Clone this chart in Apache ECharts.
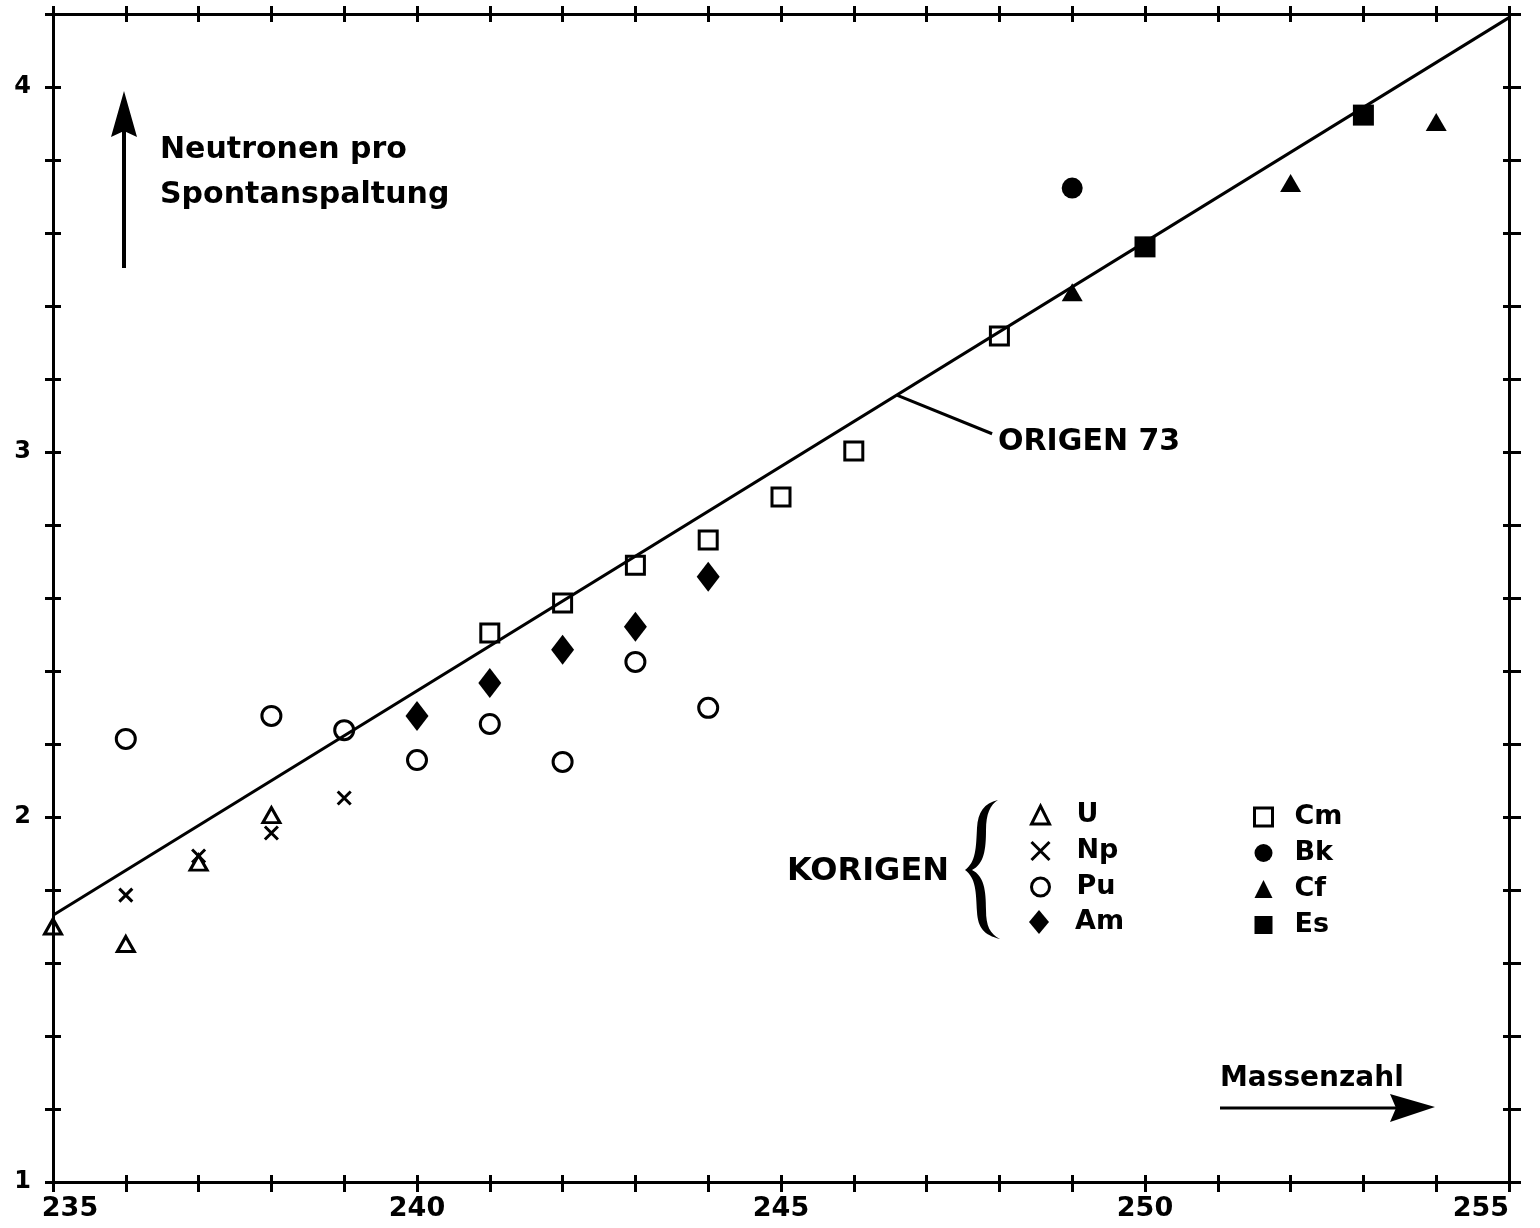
<!DOCTYPE html>
<html>
<head>
<meta charset="utf-8">
<script src="https://cdn.jsdelivr.net/npm/echarts@6/dist/echarts.min.js"></script>
<style>
html, body { margin: 0; padding: 0; background: #fff; }
#main { width: 1540px; height: 1228px; }
</style>
</head>
<body>
<div id="main"></div>
<script>
// Neutronen pro Spontanspaltung: [Massenzahl, Wert]
var dataU  = [[235, 1.700], [236, 1.652], [237, 1.875], [238, 2.005]];
var dataNp = [[236, 1.786], [237, 1.893], [238, 1.956], [239, 2.052]];
var dataPu = [[236, 2.214], [238, 2.277], [239, 2.238], [240, 2.156], [241, 2.255], [242, 2.151], [243, 2.425], [244, 2.299]];
var dataAm = [[240, 2.277], [241, 2.367], [242, 2.458], [243, 2.521], [244, 2.658]];
var dataCm = [[241, 2.504], [242, 2.586], [243, 2.690], [244, 2.759], [245, 2.877], [246, 3.003], [248, 3.318]];
var dataBk = [[249, 3.723]];
var dataCf = [[249, 3.438], [252, 3.737], [254, 3.904]];
var dataEs = [[250, 3.562], [253, 3.923]];

// ORIGEN 73 Gerade und Hinweislinie zur Beschriftung
var origenLine = [[235, 1.731], [255, 4.19]];
var origenLeader = [[246.6, 3.155], [247.9, 3.05]];

var legendLeft = ['U', 'Np', 'Pu'];
var legendAm = ['Am'];
var legendRight = ['Cm', 'Bk', 'Cf', 'Es'];

var FONT = 'DejaVu Sans';
var BLK = '#000';

// geschweifte Klammer vor der Legende
var Brace = echarts.graphic.extendShape({
  shape: {},
  buildPath: function (ctx) {
    ctx.moveTo(998, 800);
    ctx.bezierCurveTo(984, 803, 978, 812, 977, 828);
    ctx.bezierCurveTo(976, 848, 976, 862, 965, 870);
    ctx.bezierCurveTo(976, 878, 976, 892, 977, 912);
    ctx.bezierCurveTo(978, 928, 984, 935, 1000, 939);
    ctx.bezierCurveTo(990, 934, 986, 926, 986, 910);
    ctx.bezierCurveTo(986, 890, 984, 876, 972, 870);
    ctx.bezierCurveTo(984, 864, 986, 850, 986, 830);
    ctx.bezierCurveTo(986, 814, 990, 805, 998, 800);
    ctx.closePath();
  }
});
echarts.graphic.registerShape('brace', Brace);

var chart = echarts.init(document.getElementById('main'));

function pts(name, data, symbol, size, filled) {
  return {
    name: name,
    type: 'scatter',
    data: data,
    symbol: symbol,
    symbolSize: size,
    itemStyle: filled
      ? { color: BLK, opacity: 1 }
      : { color: 'rgba(0,0,0,0)', borderColor: BLK, borderWidth: 3, opacity: 1 },
    emphasis: { disabled: true },
    z: 3
  };
}

function xAx(pos, inside, len, showLine, showLabel) {
  return {
    type: 'value', min: 235, max: 255, interval: 1, position: pos, offset: 0,
    splitLine: { show: false },
    axisLine: { show: showLine, onZero: false, lineStyle: { color: BLK, width: 3 } },
    axisTick: { show: true, inside: inside, length: len, lineStyle: { color: BLK, width: 3 } },
    axisLabel: showLabel ? {
      show: true, margin: 13, color: BLK, fontFamily: FONT, fontWeight: 'bold', fontSize: 27,
      showMinLabel: true, showMaxLabel: true, alignMaxLabel: 'right',
      formatter: function (v) {
        if (v === 235) return '{a|235}';
        return v % 5 === 0 ? String(v) : '';
      },
      rich: { a: { padding: [0, 0, 0, 34], color: BLK, fontFamily: FONT, fontWeight: 'bold', fontSize: 27 } }
    } : { show: false }
  };
}

function yAx(pos, inside, len, showLine, showLabel) {
  return {
    type: 'value', min: 1, max: 4.2, interval: 0.2, position: pos, offset: 0,
    splitLine: { show: false },
    axisLine: { show: showLine, onZero: false, lineStyle: { color: BLK, width: 3 } },
    axisTick: { show: true, inside: inside, length: len, lineStyle: { color: BLK, width: 3 } },
    axisLabel: showLabel ? {
      show: true, margin: 22, color: BLK, fontFamily: FONT, fontWeight: 'bold', fontSize: 24,
      formatter: function (v) {
        var r = Math.round(v);
        return Math.abs(v - r) < 1e-6 ? String(r) : '';
      }
    } : { show: false }
  };
}

var legendText = { color: BLK, fontFamily: FONT, fontWeight: 'bold', fontSize: 27, lineHeight: 36 };

function leg(data, left, top, w, h, pad) {
  return {
    data: data, orient: 'vertical', left: left, top: top, padding: 0,
    itemWidth: w, itemHeight: h, itemGap: 0, selectedMode: false,
    itemStyle: { borderWidth: 3, opacity: 1 },
    textStyle: Object.assign({ padding: [0, 0, 0, pad] }, legendText)
  };
}

chart.setOption({
  animation: false,
  backgroundColor: '#fff',
  grid: { left: 53, right: 31, top: 14, bottom: 46, outerBoundsMode: 'none' },
  xAxis: [
    xAx('bottom', false, 10, true, true),
    xAx('bottom', true, 7, false, false),
    xAx('top', false, 8, true, false),
    xAx('top', true, 8, false, false)
  ],
  yAxis: [
    yAx('left', false, 8, true, true),
    yAx('left', true, 8, false, false),
    yAx('right', false, 12, true, false),
    yAx('right', true, 6, false, false)
  ],
  legend: [
    leg(legendLeft, 1030, 797, 18, 18, 22),
    leg(legendAm, 1029, 904, 20, 24, 21),
    leg(legendRight, 1253, 799, 18, 18, 17)
  ],
  series: [
    {
      name: 'ORIGEN 73', type: 'line', data: origenLine, symbol: 'none', silent: true,
      lineStyle: { color: BLK, width: 3 }, z: 2
    },
    {
      name: 'leader', type: 'line', data: origenLeader, symbol: 'none', silent: true,
      lineStyle: { color: BLK, width: 3 }, z: 2
    },
    pts('U', dataU, 'triangle', [17, 15], false),
    pts('Np', dataNp, 'path://M0,0L10,10M10,0L0,10', 13, false),
    pts('Pu', dataPu, 'circle', 19, false),
    pts('Am', dataAm, 'diamond', [23, 30], true),
    pts('Cm', dataCm, 'rect', 18, false),
    pts('Bk', dataBk, 'circle', 21, true),
    pts('Cf', dataCf, 'triangle', [21, 18], true),
    pts('Es', dataEs, 'rect', 21, true)
  ],
  graphic: [
    { type: 'text', x: 160, y: 150, style: { text: 'Neutronen pro', fill: BLK, font: 'bold 30px "DejaVu Sans"', verticalAlign: 'middle' } },
    { type: 'text', x: 160, y: 195, style: { text: 'Spontanspaltung', fill: BLK, font: 'bold 30px "DejaVu Sans"', verticalAlign: 'middle' } },
    { type: 'line', shape: { x1: 124, y1: 268, x2: 124, y2: 128 }, style: { stroke: BLK, lineWidth: 4 } },
    { type: 'polygon', shape: { points: [[124, 91], [111, 137], [124, 131], [137, 137]] }, style: { fill: BLK } },
    { type: 'text', x: 998, y: 442, style: { text: 'ORIGEN 73', fill: BLK, font: 'bold 30px "DejaVu Sans"', verticalAlign: 'middle' } },
    { type: 'text', x: 1220, y: 1079, style: { text: 'Massenzahl', fill: BLK, font: 'bold 28px "DejaVu Sans"', verticalAlign: 'middle' } },
    { type: 'line', shape: { x1: 1220, y1: 1108, x2: 1396, y2: 1108 }, style: { stroke: BLK, lineWidth: 3 } },
    { type: 'polygon', shape: { points: [[1435, 1107], [1390, 1094], [1396, 1108], [1390, 1122]] }, style: { fill: BLK } },
    { type: 'text', x: 787, y: 872, style: { text: 'KORIGEN', fill: BLK, font: 'bold 32px "DejaVu Sans"', verticalAlign: 'middle' } },
    { type: 'brace', shape: {}, style: { fill: BLK } }
  ]
});
</script>
</body>
</html>
